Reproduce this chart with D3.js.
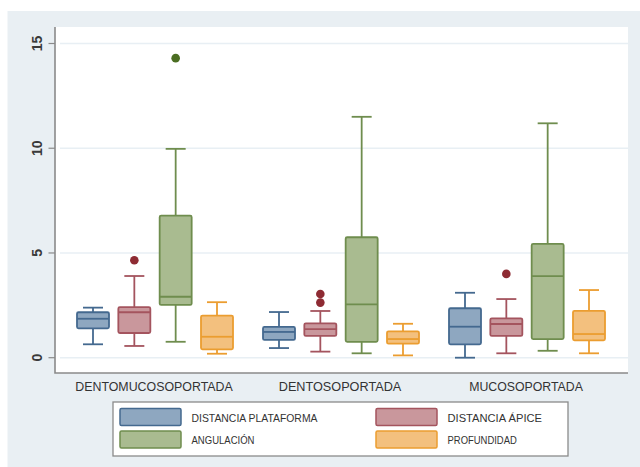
<!DOCTYPE html>
<html>
<head>
<meta charset="utf-8">
<script src="https://cdn.jsdelivr.net/npm/d3@7"></script>
<style>
  body { margin: 0; background: #fff; }
  svg { display: block; font-family: "Liberation Sans", Arial, sans-serif; }
</style>
</head>
<body>
<div id="chart"></div>
<script>
// groups along the x axis
const groups = ['DENTOMUCOSOPORTADA', 'DENTOSOPORTADA', 'MUCOSOPORTADA'];
const seriesNames = ['DISTANCIA PLATAFORMA', 'DISTANCIA ÁPICE', 'ANGULACIÓN', 'PROFUNDIDAD'];
const yTicks = [0, 5, 10, 15];

// [lower whisker, q1, median, q3, upper whisker] per group
const plataforma = [[0.64, 1.40, 1.86, 2.17, 2.39], [0.46, 0.85, 1.23, 1.47, 2.18], [0.00, 0.64, 1.48, 2.36, 3.10]];
const apice = [[0.56, 1.18, 2.17, 2.41, 3.90], [0.29, 1.04, 1.36, 1.64, 2.23], [0.21, 1.04, 1.61, 1.88, 2.80]];
const angulacion = [[0.76, 2.52, 2.91, 6.78, 9.97], [0.21, 0.76, 2.55, 5.75, 11.50], [0.33, 0.89, 3.89, 5.43, 11.19]];
const profundidad = [[0.19, 0.40, 1.00, 2.01, 2.65], [0.11, 0.67, 0.89, 1.26, 1.62], [0.21, 0.83, 1.13, 2.24, 3.23]];

// outliers per group
const plataformaOut = [[], [], []];
const apiceOut = [[4.65], [3.04, 2.63], [4.00]];
const angulacionOut = [[14.30], [], []];
const profundidadOut = [[], [], []];

const fills = ['#8ea7c0', '#c9979c', '#a9bb90', '#f3c07e'];
const strokes = ['#44698f', '#a4545e', '#6f8d4e', '#eb9d30'];
const dots = ['#2f5880', '#8e2b33', '#4b6e22', '#d9861a'];

const series = [
    {name: seriesNames[0], stats: plataforma, out: plataformaOut},
    {name: seriesNames[1], stats: apice, out: apiceOut},
    {name: seriesNames[2], stats: angulacion, out: angulacionOut},
    {name: seriesNames[3], stats: profundidad, out: profundidadOut}
];

let width = 640,
    height = 467;

let svg = d3.select('#chart').append('svg')
    .attr('width', width)
    .attr('height', height);

// outer graph region
svg.append('rect')
    .attr('x', 7.5).attr('y', 11)
    .attr('width', width - 7.5).attr('height', height - 11)
    .attr('fill', '#e9eff3');

// plot region
svg.append('rect')
    .attr('x', 55).attr('y', 27)
    .attr('width', 573).attr('height', 346)
    .attr('fill', '#fff');

let y = d3.scaleLinear().domain([0, 15]).range([357.7, 43.5]);

let x0 = d3.scaleBand().domain(groups).range([62, 620]);
let x1 = d3.scalePoint().domain(seriesNames).range([31, 155]);
let boxW = 32, capW = 20;

// gridlines
svg.append('g').selectAll('line')
    .data(yTicks)
    .join('line')
    .attr('x1', 60).attr('x2', 628)
    .attr('y1', d => y(d)).attr('y2', d => y(d))
    .attr('stroke', '#e8eff4')
    .attr('stroke-width', 1.5);

// axes lines
svg.append('path')
    .attr('d', 'M55,27V373H628')
    .attr('fill', 'none')
    .attr('stroke', '#8a8a8a')
    .attr('stroke-width', 1.6);

// y ticks + labels
let yg = svg.append('g');
yg.selectAll('line')
    .data(yTicks)
    .join('line')
    .attr('x1', 48.5).attr('x2', 55)
    .attr('y1', d => y(d)).attr('y2', d => y(d))
    .attr('stroke', '#8a8a8a')
    .attr('stroke-width', 1.2);
yg.selectAll('text')
    .data(yTicks)
    .join('text')
    .attr('transform', d => `translate(42, ${y(d)}) rotate(-90)`)
    .attr('text-anchor', 'middle')
    .style('font-size', '14px')
    .style('font-weight', 'bold')
    .attr('fill', '#3a3a3a')
    .text(d => d);

// group labels
svg.append('g').selectAll('text')
    .data(groups)
    .join('text')
    .attr('x', d => x0(d) + x0.bandwidth() / 2 - 1)
    .attr('y', 390.5)
    .attr('text-anchor', 'middle')
    .style('font-size', '12px')
    .attr('textLength', d => d.length * 8.75)
    .attr('lengthAdjust', 'spacingAndGlyphs')
    .attr('fill', '#333')
    .text(d => d);

// boxes
series.forEach((s, si) => {
    let g = svg.append('g').attr('class', 'series');
    groups.forEach((grp, gi) => {
        let st = s.stats[gi];
        let cx = x0(grp) + x1(s.name);
        let col = strokes[si];
        // whiskers
        g.append('line')
            .attr('x1', cx).attr('x2', cx)
            .attr('y1', y(st[0])).attr('y2', y(st[1]))
            .attr('stroke', col).attr('stroke-width', 1.8);
        g.append('line')
            .attr('x1', cx).attr('x2', cx)
            .attr('y1', y(st[3])).attr('y2', y(st[4]))
            .attr('stroke', col).attr('stroke-width', 1.8);
        // caps
        [st[0], st[4]].forEach(v => {
            g.append('line')
                .attr('x1', cx - capW / 2).attr('x2', cx + capW / 2)
                .attr('y1', y(v)).attr('y2', y(v))
                .attr('stroke', col).attr('stroke-width', 1.8);
        });
        // box
        g.append('rect')
            .attr('x', cx - boxW / 2)
            .attr('y', y(st[3]))
            .attr('width', boxW)
            .attr('height', y(st[1]) - y(st[3]))
            .attr('fill', fills[si])
            .attr('stroke', col)
            .attr('stroke-width', 1.8)
            .attr('rx', 1.5);
        // median
        g.append('line')
            .attr('x1', cx - boxW / 2).attr('x2', cx + boxW / 2)
            .attr('y1', y(st[2])).attr('y2', y(st[2]))
            .attr('stroke', col).attr('stroke-width', 1.8);
        // outliers
        g.selectAll(null)
            .data(s.out[gi])
            .join('circle')
            .attr('cx', cx)
            .attr('cy', d => y(d))
            .attr('r', 4.3)
            .attr('fill', dots[si]);
    });
});

// legend
let lg = svg.append('g');
lg.append('rect')
    .attr('x', 113).attr('y', 402)
    .attr('width', 455).attr('height', 54)
    .attr('fill', '#fff')
    .attr('stroke', '#8a8a8a')
    .attr('stroke-width', 1.3);

let legendPos = [[120, 408.5], [376, 408.5], [120, 431], [376, 431]];
seriesNames.forEach((name, i) => {
    let p = legendPos[i];
    lg.append('rect')
        .attr('x', p[0]).attr('y', p[1])
        .attr('width', 61).attr('height', 17)
        .attr('fill', fills[i])
        .attr('stroke', strokes[i])
        .attr('stroke-width', 1.5)
        .attr('rx', 1.5);
    lg.append('text')
        .attr('x', p[0] + 71.5)
        .attr('y', p[1] + 13)
        .style('font-size', '11.5px')
        .attr('textLength', name.length * 6.3)
        .attr('lengthAdjust', 'spacingAndGlyphs')
        .attr('fill', '#333')
        .text(name);
});
</script>
</body>
</html>
